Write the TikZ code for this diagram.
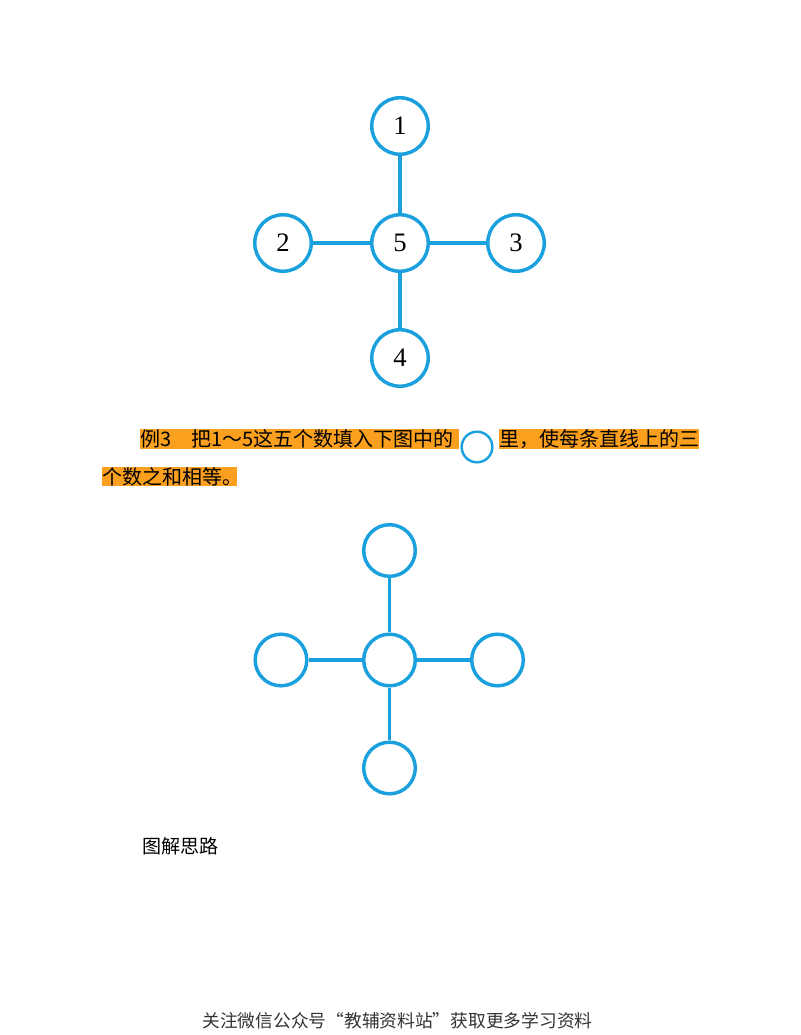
\documentclass[tikz,border=0pt]{standalone}
\usepackage{fontspec}
\setmainfont{Liberation Serif}
\newfontfamily\cjk{Noto Sans CJK SC}
\usetikzlibrary{positioning}
\definecolor{ringblue}{RGB}{27,160,222}
\definecolor{markorange}{RGB}{250,160,30}

\begin{document}
\begin{tikzpicture}[x=0.75pt, y=-0.75pt]
		\tikzstyle{Ring} = [circle, minimum size=42.4pt, inner sep=0pt, draw=ringblue, line width=2.6pt, font=\fontsize{20}{20}\selectfont]
		\tikzstyle{Blank} = [circle, minimum size=38.7pt, inner sep=0pt, draw=ringblue, line width=2.6pt]
		\tikzstyle{Mark} = [rectangle, fill=markorange, inner sep=0pt, minimum height=15pt, anchor=west, align=left, font=\cjk\fontsize{15}{15}\selectfont]
		\tikzstyle{link} = [line width=2.6pt, ringblue]
		
		\useasboundingbox (0,0) rectangle (800,1035);
		
		% filled in
		\node (t1) [Ring] at (400,126) {1};
		\node (t2) [Ring] at (283,243) {2};
		\node (t5) [Ring] at (400,243) {5};
		\node (t3) [Ring] at (516,243) {3};
		\node (t4) [Ring] at (400,358) {4};
		
		\draw [link] (t1) -- (t5);
		\draw [link] (t2) -- (t5);
		\draw [link] (t5) -- (t3);
		\draw [link] (t5) -- (t4);
		
		% question
		\node (q1) [Mark, text width=239pt] at (140,439) {例3　把1～5这五个数填入下图中的};
		\node (hole) [circle, minimum size=23pt, inner sep=0pt, draw=ringblue, line width=1.8pt] at (477,447) {};
		\node (q2) [Mark, text width=150pt] at (499,439) {里，使每条直线上的三};
		\node (q3) [Mark, text width=101pt, minimum height=14.6pt] at (102,476.5) {个数之和相等。};
		
		% empty
		\node (b1) [Blank] at (389.5,550.5) {};
		\node (b2) [Blank] at (281,660) {};
		\node (b5) [Blank] at (389.5,660) {};
		\node (b3) [Blank] at (497.5,660) {};
		\node (b4) [Blank] at (389.5,768) {};
		
		\draw [link] (b1) -- (b5);
		\draw [link] (b2) -- (b5);
		\draw [link] (b5) -- (b3);
		\draw [link] (b5) -- (b4);
		
		\node (hint) [anchor=west, inner sep=0pt, font=\cjk\fontsize{14.3}{15}\selectfont] at (142,846) {图解思路};
		
		\node (foot) [inner sep=0pt, text=black!80, font=\cjk\fontsize{13.3}{14}\selectfont] at (397.5,1021) {关注微信公众号“教辅资料站”获取更多学习资料};
\end{tikzpicture}
\end{document}
